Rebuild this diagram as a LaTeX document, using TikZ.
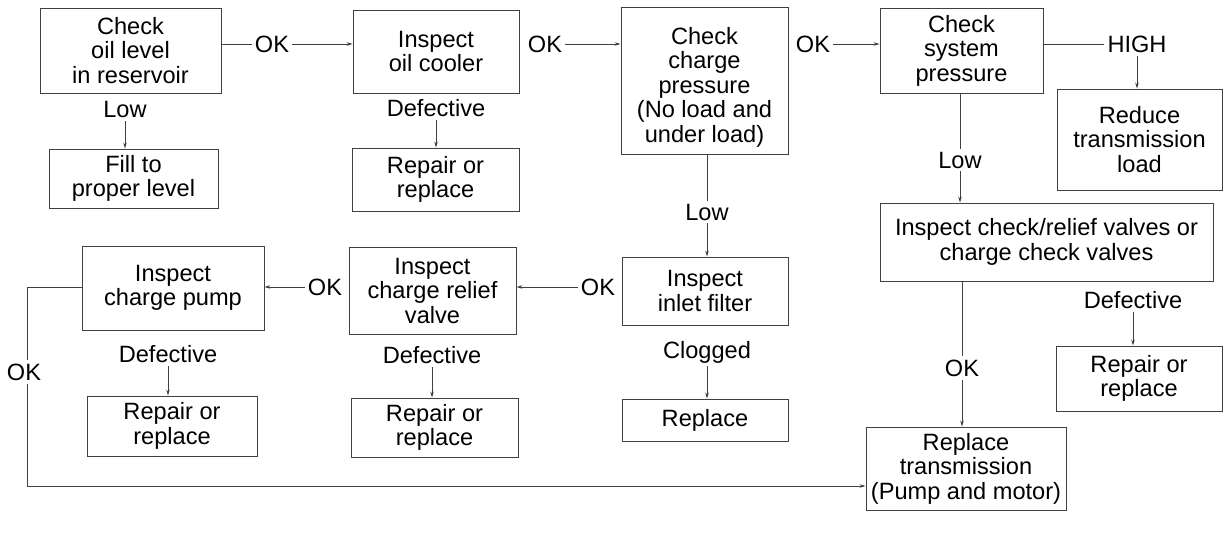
\documentclass[tikz,border=0pt]{standalone}
\usepackage{fontspec}
\setmainfont{Liberation Sans}
\usetikzlibrary{arrows.meta}
\definecolor{lc}{gray}{0.25}
\newcommand\diafont{\fontsize{23.6}{24.5}\selectfont}
\begin{document}
\begin{tikzpicture}[x=1pt,y=-1pt,
  box/.style={draw=lc, line width=0.9pt, align=center, inner sep=2pt, font=\diafont},
  lbl/.style={inner sep=3pt, font=\diafont},
  ln/.style={draw=lc, line width=0.8pt},
  arr/.style={ln, -{Stealth[length=6pt,width=3.5pt]}}]
\useasboundingbox (0,0) rectangle (1224,534);
% boxes
\node[box, minimum width=181pt, minimum height=85pt] (b1) at (130.5,50.5) {Check\\oil level\\in reservoir};
\node[box, minimum width=166pt, minimum height=83pt] (b2) at (436,51.5) {Inspect\\oil cooler};
\node[box, minimum width=167pt, minimum height=147pt] (b3) at (704.5,80.5) {\rule{0pt}{30pt}Check\\charge\\pressure\\(No load and\\under load)};
\node[box, minimum width=163pt, minimum height=85pt] (b4) at (961.5,50.5) {Check\\system\\pressure};
\node[box, minimum width=169pt, minimum height=59pt] (fill) at (133.5,178.5) {Fill to\\proper level};
\node[box, minimum width=167pt, minimum height=63pt] (rep1) at (435.5,179.5) {Repair or\\replace};
\node[box, minimum width=165pt, minimum height=101pt] (rd) at (1139.5,139.5) {Reduce\\transmission\\load};
\node[box, minimum width=333pt, minimum height=78pt] (icr) at (1046.5,242) {Inspect check/relief valves or\\charge check valves};
\node[box, minimum width=182pt, minimum height=84pt] (pump) at (173,288) {Inspect\\charge pump};
\node[box, minimum width=167pt, minimum height=87pt] (rel) at (432.5,290.5) {Inspect\\charge relief\\valve};
\node[box, minimum width=166pt, minimum height=68pt] (inl) at (705,291) {Inspect\\inlet filter};
\node[box, minimum width=170pt, minimum height=60pt] (reppump) at (172,426) {Repair or\\replace};
\node[box, minimum width=167pt, minimum height=59pt] (reprel) at (434.5,427.5) {Repair or\\replace};
\node[box, minimum width=166pt, minimum height=42pt] (repl) at (705,420) {Replace};
\node[box, minimum width=166pt, minimum height=65pt] (repr) at (1139,378.5) {Repair or\\replace};
\node[box, minimum width=200pt, minimum height=83pt] (rt) at (966,468.5) {Replace\\transmission\\(Pump and motor)};
% labels
\node[lbl] (ok1) at (272,44) {OK};
\node[lbl] (ok2) at (545,44) {OK};
\node[lbl] (ok3) at (813,44) {OK};
\node[lbl] (high) at (1137,44) {HIGH};
\node[lbl] (low1) at (125,110) {Low};
\node[lbl] (def1) at (436,108) {Defective};
\node[lbl] (low3) at (707,212) {Low};
\node[lbl] (low4) at (960,160) {Low};
\node[lbl] (okr1) at (598,287) {OK};
\node[lbl] (okr2) at (325,287) {OK};
\node[lbl] (defp) at (168,354) {Defective};
\node[lbl] (defr) at (432,355) {Defective};
\node[lbl] (clog) at (707,352) {Clogged};
\node[lbl] (defrr) at (1133,300) {Defective};
\node[lbl] (okv) at (962,368) {OK};
\node[lbl] (okl) at (24,372) {OK};
\coordinate (c1) at (27,287);
\coordinate (c2) at (27,486);
% connectors
\draw[ln] (b1.east |- ok1) -- (ok1.west);
\draw[arr] (ok1.east) -- (b2.west |- ok1);
\draw[arr] (ok2.east) -- (b3.west |- ok2);
\draw[arr] (ok3.east) -- (b4.west |- ok3);
\draw[ln] (b4.east |- high) -- (high.west);
\draw[arr] (high.south) -- (high.south |- rd.north);
\draw[arr] (low1.south) -- (low1.south |- fill.north);
\draw[arr] (def1.south) -- (def1.south |- rep1.north);
\draw[ln] (b3.south -| low3) -- (low3.north);
\draw[arr] (low3.south) -- (low3.south |- inl.north);
\draw[ln] (b4.south -| low4) -- (low4.north);
\draw[arr] (low4.south) -- (low4.south |- icr.north);
\draw[arr] (okr1.west) -- (rel.east |- okr1);
\draw[arr] (okr2.west) -- (pump.east |- okr2);
\draw[ln] (pump.west |- c1) -- (c1) -- (c1 |- okl.north);
\draw[arr] (c1 |- okl.south) -- (c2) -- (rt.west |- c2);
\draw[arr] (defp.south) -- (defp.south |- reppump.north);
\draw[arr] (defr.south) -- (defr.south |- reprel.north);
\draw[arr] (clog.south) -- (clog.south |- repl.north);
\draw[arr] (defrr.south) -- (defrr.south |- repr.north);
\draw[ln] (icr.south -| okv) -- (okv.north);
\draw[arr] (okv.south) -- (okv.south |- rt.north);
\end{tikzpicture}
\end{document}
